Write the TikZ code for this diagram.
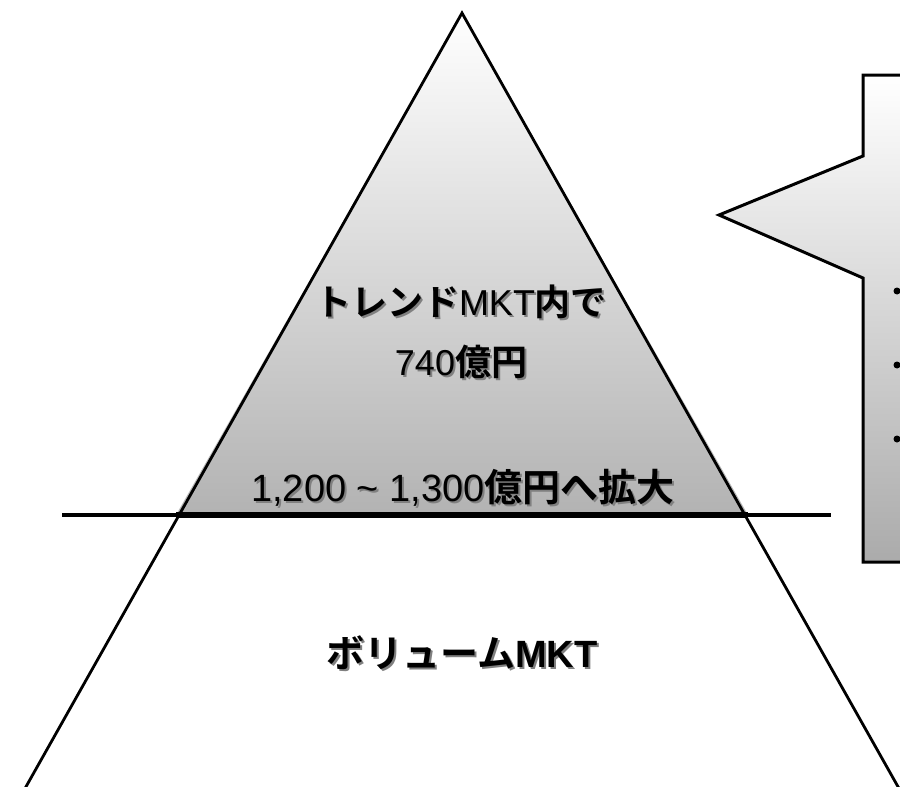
\documentclass[tikz,border=0pt]{standalone}
\usepackage{fontspec}
\newfontfamily\jpm{Noto Sans CJK JP Bold}
\newfontfamily\jpb{Noto Sans CJK JP Bold}
\newfontfamily\lat{Liberation Sans}
\usetikzlibrary{shadings}
\tikzset{
  lbl/.style={inner sep=0pt, align=center},
  shadowtxt/.style={lbl, text=black!50},
  bulletdot/.style={circle, fill=black, inner sep=0pt, minimum size=7pt},
  bigtxt/.style={font=\fontsize{36}{40}\selectfont},
  rangetxt/.style={font=\fontsize{38}{40}\selectfont},
  voltxt/.style={font=\fontsize{38}{40}\selectfont},
}
\newcommand{\trendA}{\jpm トレンド{\lat MKT}内で}
\newcommand{\trendB}{\jpm {\lat 740}億円}
\newcommand{\rangeT}{\jpm {\lat 1,200 \textasciitilde{} 1,300}億円へ拡大}
\newcommand{\volT}{\jpb ボリューム{\lat\bfseries MKT}}
\begin{document}
\begin{tikzpicture}[x=1pt,y=-1pt]
\useasboundingbox (0,0) rectangle (900,787);
\begin{scope}
\clip (0,0) rectangle (900,787);
% callout
\coordinate (c1) at (863,75);
\coordinate (c2) at (910,75);
\coordinate (c3) at (910,562);
\coordinate (c4) at (863,562);
\coordinate (c5) at (863,278);
\coordinate (tip) at (719,215);
\coordinate (c6) at (863,156);
\shade[top color=white, bottom color=black!33] (c1) -- (c2) -- (c3) -- (c4) -- (c5) -- (tip) -- (c6) -- cycle;
\draw[line width=3pt, line join=miter] (c1) -- (c2) -- (c3) -- (c4) -- (c5) -- (tip) -- (c6) -- cycle;
\node[bulletdot] (b1) at (897,291) {};
\node[bulletdot] (b2) at (897,365) {};
\node[bulletdot] (b3) at (897,439) {};
% pyramid
\coordinate (apex) at (462,13);
\coordinate (bl) at (176,515);
\coordinate (br) at (748,515);
\coordinate (fl) at (18.5,800);
\coordinate (fr) at (905.5,800);
\shade[top color=white, bottom color=black!30] (apex) -- (bl) -- (br) -- cycle;
\draw[line width=2.8pt] (fl) -- (apex) -- (fr);
\coordinate (hl) at (62,515);
\coordinate (hr) at (831,515);
\draw[line width=3.5pt] (hl) -- (hr);
\draw[line width=5.5pt] (bl) -- (br);
\end{scope}
% texts
\node[shadowtxt, bigtxt] at (463,304) {\trendA};
\node[lbl, bigtxt] (t1) at (461,302) {\trendA};
\node[shadowtxt, bigtxt] at (463,364) {\trendB};
\node[lbl, bigtxt] (t2) at (461,362) {\trendB};
\node[shadowtxt, rangetxt] at (465,490) {\rangeT};
\node[lbl, rangetxt] (t3) at (463,488) {\rangeT};
\node[shadowtxt, voltxt] at (464,655) {\volT};
\node[lbl, voltxt] (t4) at (462,653) {\volT};
\end{tikzpicture}
\end{document}
